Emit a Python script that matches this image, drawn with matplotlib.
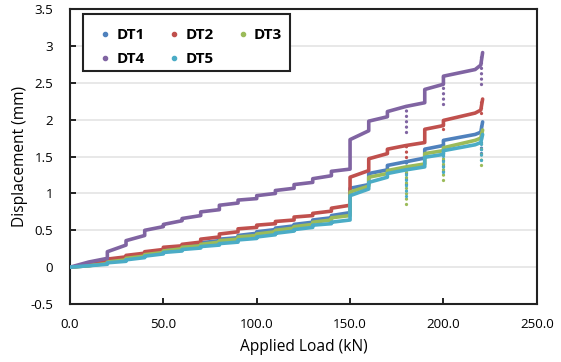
import matplotlib
matplotlib.use("Agg")
import matplotlib.pyplot as plt
from matplotlib.lines import Line2D
from matplotlib.patches import Rectangle

plt.rcParams['font.family'] = ['Open Sans', 'DejaVu Sans']

# Applied load vertices (kN) shared by all series (step at each load hold)
load = [0, 10, 20, 20, 30, 30, 40, 40, 50, 50, 60, 60, 70, 70, 80, 80, 90, 90,
        100, 100, 110, 110, 120, 120, 130, 130, 140, 140, 150, 150, 160, 160,
        170, 170, 180, 190, 190, 200, 200, 217, 220, 221]

dt1 = [0, 0.02, 0.06, 0.08, 0.11, 0.13, 0.16, 0.18, 0.21, 0.23, 0.26, 0.28, 0.31, 0.33,
       0.36, 0.38, 0.40, 0.43, 0.46, 0.48, 0.51, 0.53, 0.56, 0.58, 0.61, 0.64, 0.67, 0.70,
       0.74, 1.07, 1.12, 1.27, 1.32, 1.38, 1.43, 1.48, 1.60, 1.65, 1.72, 1.80, 1.83, 1.97]
dt2 = [0, 0.03, 0.08, 0.11, 0.14, 0.16, 0.19, 0.21, 0.24, 0.27, 0.29, 0.31, 0.34, 0.38,
       0.41, 0.45, 0.48, 0.52, 0.54, 0.57, 0.59, 0.62, 0.64, 0.68, 0.70, 0.73, 0.76, 0.80,
       0.84, 1.22, 1.31, 1.47, 1.54, 1.60, 1.65, 1.69, 1.87, 1.92, 1.99, 2.09, 2.13, 2.28]
dt3 = [0, 0.02, 0.05, 0.07, 0.10, 0.12, 0.15, 0.17, 0.20, 0.22, 0.25, 0.27, 0.29, 0.31,
       0.34, 0.36, 0.38, 0.41, 0.43, 0.45, 0.48, 0.50, 0.53, 0.55, 0.58, 0.61, 0.64, 0.67,
       0.70, 1.02, 1.10, 1.22, 1.27, 1.31, 1.36, 1.40, 1.54, 1.58, 1.62, 1.72, 1.75, 1.86]
dt4 = [0, 0.07, 0.12, 0.21, 0.30, 0.36, 0.43, 0.50, 0.55, 0.58, 0.63, 0.66, 0.70, 0.75,
       0.78, 0.84, 0.87, 0.91, 0.93, 0.97, 1.00, 1.04, 1.07, 1.12, 1.15, 1.20, 1.24, 1.30,
       1.33, 1.73, 1.85, 1.98, 2.04, 2.11, 2.18, 2.23, 2.41, 2.48, 2.59, 2.68, 2.74, 2.91]
dt5 = [0, 0.02, 0.04, 0.06, 0.08, 0.10, 0.13, 0.15, 0.18, 0.20, 0.22, 0.24, 0.26, 0.28,
       0.30, 0.32, 0.34, 0.37, 0.39, 0.41, 0.44, 0.46, 0.49, 0.51, 0.54, 0.57, 0.59, 0.61,
       0.64, 0.97, 1.06, 1.15, 1.22, 1.27, 1.32, 1.36, 1.49, 1.53, 1.58, 1.66, 1.69, 1.80]

# Momentary drops recorded at load holds
dip_load = [180, 200, 220]
dip_top = {
    'DT1': [1.43, 1.72, 1.97], 'DT2': [1.65, 1.99, 2.28], 'DT3': [1.36, 1.62, 1.86],
    'DT4': [2.18, 2.59, 2.91], 'DT5': [1.32, 1.58, 1.80]}
dip_low = {
    'DT1': [1.13, 1.30, 1.55], 'DT2': [1.49, 1.88, 2.09], 'DT3': [0.86, 1.18, 1.39],
    'DT4': [1.83, 2.21, 2.48], 'DT5': [0.96, 1.29, 1.45]}

names = ['DT1', 'DT2', 'DT3', 'DT4', 'DT5']
series = [dt1, dt2, dt3, dt4, dt5]
colors = ['#4F81BD', '#C0504D', '#9BBB59', '#8064A2', '#4BACC6']

fig = plt.figure(figsize=(5.61, 3.62), dpi=100)
ax = fig.add_axes([0.1248, 0.160, 0.832, 0.815])

for name, y, c in zip(names, series, colors):
    ax.plot(load, y, color=c, lw=2.6, solid_joinstyle='round', solid_capstyle='round', zorder=3)
    for xl, yt, yb in zip(dip_load, dip_top[name], dip_low[name]):
        ax.plot([xl, xl], [yb, yt], color=c, lw=2.4, linestyle=(0, (0.01, 1.6)),
                dash_capstyle='round', zorder=3)

ax.set_xlim(0, 250)
ax.set_ylim(-0.5, 3.5)
xt = [0, 50, 100, 150, 200, 250]
ax.set_xticks(xt)
ax.set_xticklabels([f"{v:.1f}" for v in xt])
yt = [-0.5, 0, 0.5, 1, 1.5, 2, 2.5, 3, 3.5]
ax.set_yticks(yt)
ax.set_yticklabels([f"{v:g}" for v in yt])
ax.tick_params(direction='in', length=4, width=1.2, labelsize=9.6, colors='black')
ax.tick_params(axis='x', pad=10)
ax.tick_params(axis='y', pad=12)
ax.yaxis.grid(True, color='#E6E6E6', lw=1.3)
ax.set_axisbelow(True)
for s in ax.spines.values():
    s.set_linewidth(1.5)
    s.set_color('#222222')

ax.set_xlabel('Applied Load (kN)', fontsize=11.2, labelpad=6)
ax.set_ylabel('Displacement (mm)', fontsize=11.2, labelpad=2)

# legend: row-wise order DT1 DT2 DT3 / DT4 DT5
order = [0, 3, 1, 4, 2]
handles = [Line2D([], [], marker='o', ls='none', color=colors[i], markersize=3.0) for i in order]
labels = [names[i] for i in order]
leg = ax.legend(handles, labels, loc='upper left', bbox_to_anchor=(0.062, 0.935),
                borderaxespad=0, borderpad=0, ncol=3, frameon=False,
                prop={'weight': 'bold', 'size': 11}, handlelength=0.8, handletextpad=0.35,
                columnspacing=1.5, labelspacing=0.63)
leg.set_zorder(6)
ax.add_patch(Rectangle((0.0272, 0.790), 0.444, 0.193, transform=ax.transAxes,
                       facecolor='white', edgecolor='#222222', lw=1.5, zorder=5))

fig.savefig('out.png', dpi=100)
